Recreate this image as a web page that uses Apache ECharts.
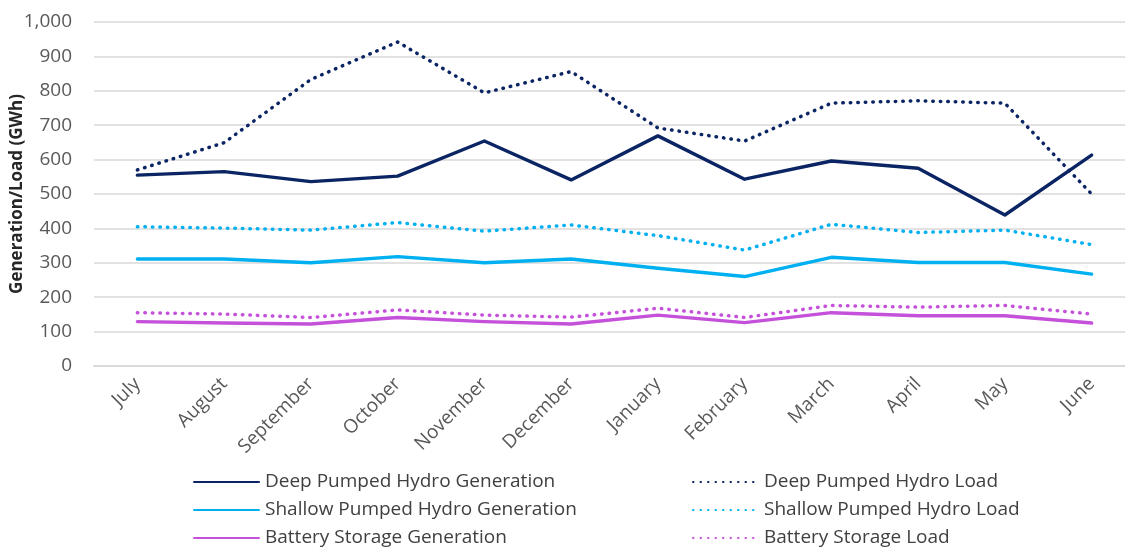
<!DOCTYPE html>
<html>
<head>
<meta charset="utf-8">
<script src="https://cdn.jsdelivr.net/npm/echarts@6/dist/echarts.min.js"></script>
<style>
  html, body { margin: 0; padding: 0; background: #fff; }
  #chart { width: 1125px; height: 549px; }
</style>
</head>
<body>
<div id="chart"></div>
<script>
// categories (financial year months)
const months = ["July", "August", "September", "October", "November", "December",
  "January", "February", "March", "April", "May", "June"];

// GWh values
const deepGen = [555, 565, 536, 552, 654, 541, 669, 543, 596, 575, 439, 613];
const deepLoad = [570, 649, 833, 942, 794, 856, 692, 654, 764, 771, 764, 500];
const shallowGen = [311, 311, 300, 318, 300, 311, 284, 260, 316, 301, 301, 267];
const shallowLoad = [405, 401, 395, 417, 392, 410, 379, 337, 412, 388, 395, 353];
const batteryGen = [129, 125, 122, 141, 129, 122, 148, 126, 155, 146, 146, 125];
const batteryLoad = [155, 151, 141, 163, 148, 142, 168, 141, 176, 171, 176, 151];

const yTicks = { min: 0, max: 1000, step: 100 };

const NAVY = "#0b2463";
const CYAN = "#00b0f0";
const PURPLE = "#c550da";

const chart = echarts.init(document.getElementById("chart"), null, { renderer: "canvas" });

// solid or round-dot line, like the office chart
function lineSeries(name, data, color, dotted) {
  return {
    name: name,
    type: "line",
    data: data,
    symbol: "circle",
    showSymbol: false,
    smooth: false,
    lineStyle: {
      color: color,
      width: dotted ? 3.5 : 3.4,
      type: dotted ? [0.5, 7] : "solid",
      cap: "round",
      join: "round"
    },
    itemStyle: { color: color },
    z: dotted ? 3 : 4
  };
}

// legend: two columns of three rows, one component per entry
const legendRows = [
  ["Deep Pumped Hydro Generation", "Deep Pumped Hydro Load"],
  ["Shallow Pumped Hydro Generation", "Shallow Pumped Hydro Load"],
  ["Battery Storage Generation", "Battery Storage Load"]
];
const legends = [];
legendRows.forEach(function (row, i) {
  row.forEach(function (name, j) {
    legends.push({
      left: j === 0 ? 193 : 692,
      top: 472 + i * 28,
      padding: 0,
      itemWidth: 65,
      itemHeight: 14,
      itemStyle: { opacity: 0 },
      textStyle: {
        fontFamily: "Open Sans",
        fontSize: 19,
        color: "#404040",
        lineHeight: 20,
        padding: [0, 0, 0, 1]
      },
      data: [name]
    });
  });
});

const option = {
  animation: false,
  backgroundColor: "#ffffff",
  grid: {
    left: 94,
    top: 22,
    width: 1041,
    bottom: 183,
    containLabel: false,
    outerBoundsMode: "none"
  },
  legend: legends,
  xAxis: {
    type: "category",
    data: months,
    boundaryGap: true,
    axisLine: { lineStyle: { color: "#d9d9d9", width: 2 } },
    axisTick: { show: false },
    axisLabel: {
      rotate: 45,
      margin: 15,
      interval: 0,
      fontFamily: "Open Sans",
      fontSize: 19,
      color: "#595959"
    }
  },
  yAxis: {
    type: "value",
    min: yTicks.min,
    max: yTicks.max,
    interval: yTicks.step,
    name: "Generation/Load (GWh)",
    nameLocation: "middle",
    nameGap: 68,
    nameMoveOverlap: false,
    nameTextStyle: {
      fontFamily: "Open Sans",
      fontSize: 17,
      fontWeight: "bold",
      color: "#262626"
    },
    axisLine: { show: false },
    axisTick: { show: false },
    splitLine: { lineStyle: { color: "#d9d9d9", width: 1.5 } },
    axisLabel: {
      margin: 22,
      fontFamily: "Open Sans",
      fontSize: 19,
      color: "#595959",
      formatter: function (v) {
        return v.toLocaleString("en-US");
      }
    }
  },
  series: [
    lineSeries("Deep Pumped Hydro Generation", deepGen, NAVY, false),
    lineSeries("Deep Pumped Hydro Load", deepLoad, NAVY, true),
    lineSeries("Shallow Pumped Hydro Generation", shallowGen, CYAN, false),
    lineSeries("Shallow Pumped Hydro Load", shallowLoad, CYAN, true),
    lineSeries("Battery Storage Generation", batteryGen, PURPLE, false),
    lineSeries("Battery Storage Load", batteryLoad, PURPLE, true)
  ]
};

chart.setOption(option);
</script>
</body>
</html>
